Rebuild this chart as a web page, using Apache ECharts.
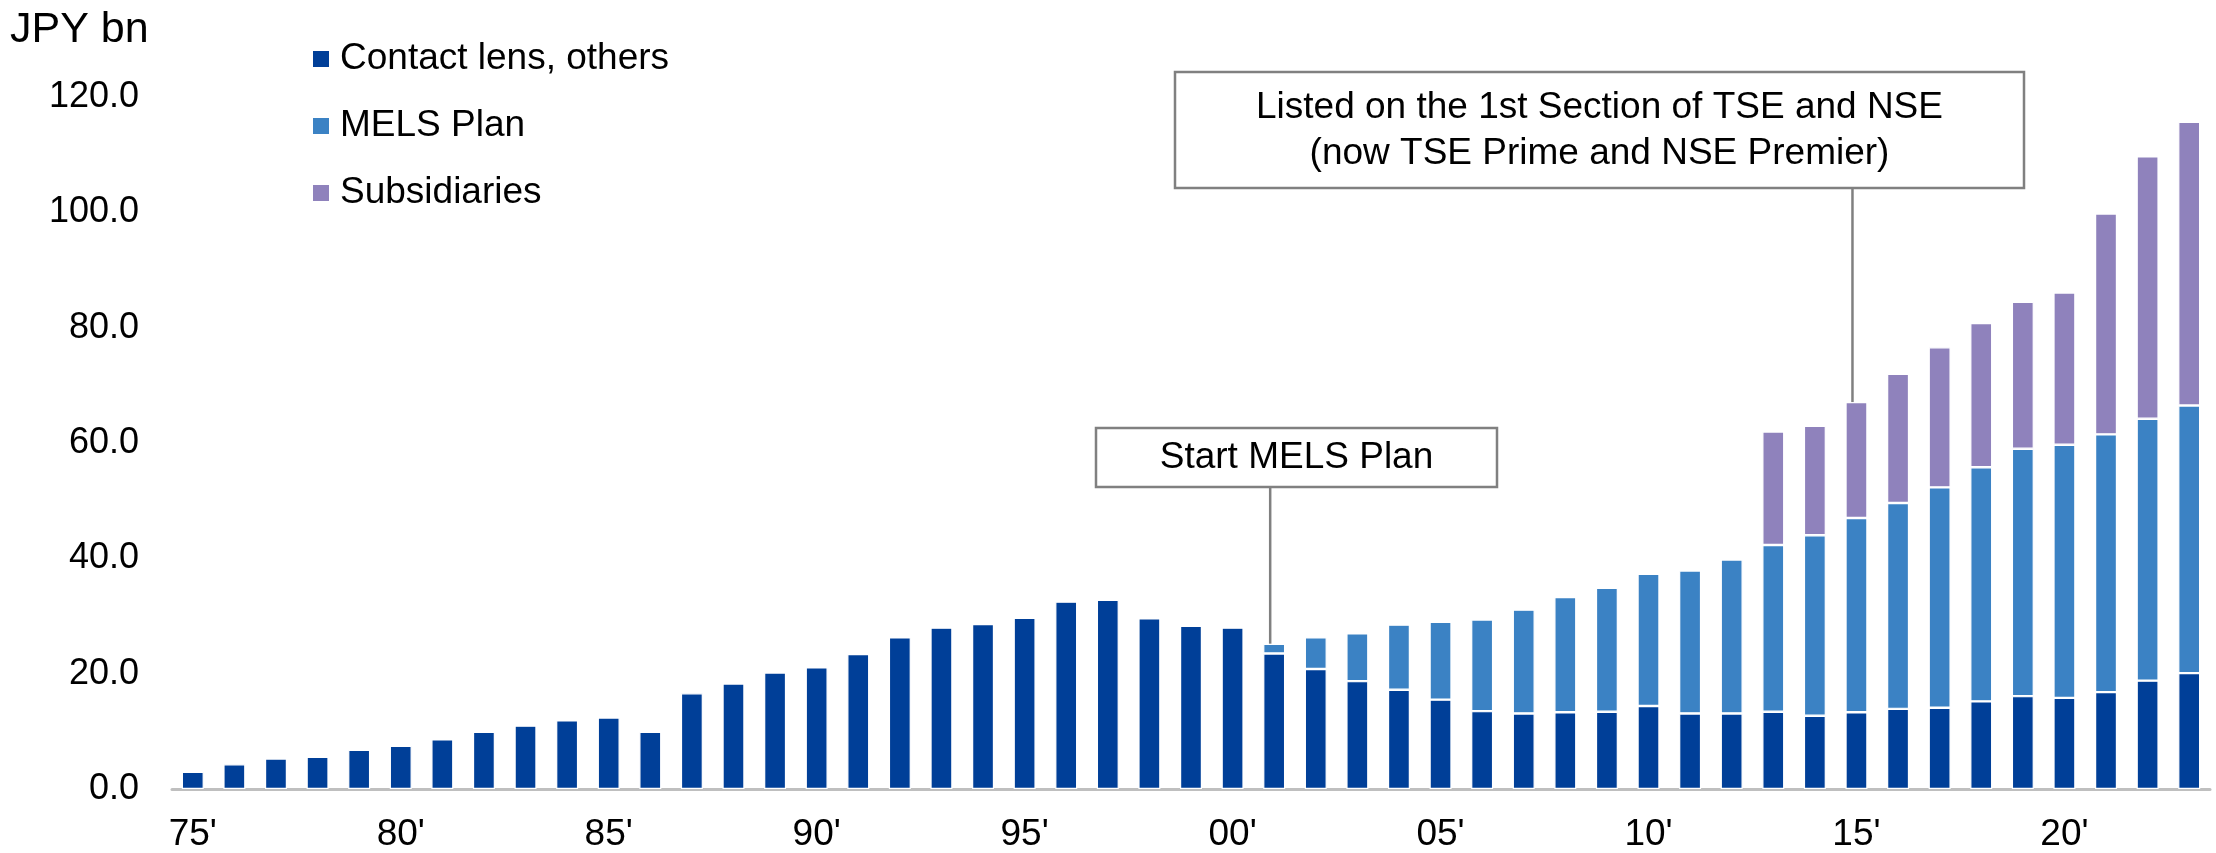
<!DOCTYPE html>
<html>
<head>
<meta charset="utf-8">
<script src="https://cdn.jsdelivr.net/npm/echarts/dist/echarts.min.js"></script>
<style>
html,body{margin:0;padding:0;background:#ffffff;}
#chart{width:2216px;height:853px;}
</style>
</head>
<body>
<div id="chart"></div>
<script>
// ---- data (JPY bn) ----
const years = ["75'","76'","77'","78'","79'","80'","81'","82'","83'","84'",
  "85'","86'","87'","88'","89'","90'","91'","92'","93'","94'",
  "95'","96'","97'","98'","99'","00'","01'","02'","03'","04'",
  "05'","06'","07'","08'","09'","10'","11'","12'","13'","14'",
  "15'","16'","17'","18'","19'","20'","21'","22'","23'"];

const contactLens = [3.0,4.3,5.3,5.6,6.8,7.5,8.6,9.9,11.0,11.9,
  12.4,9.9,16.6,18.3,20.2,21.1,23.4,26.3,28.0,28.6,
  29.7,32.5,32.8,29.6,28.3,28.0,23.5,20.8,18.7,17.2,
  15.5,13.5,13.1,13.3,13.4,14.4,13.1,13.1,13.4,12.7,
  13.3,13.9,14.1,15.2,16.1,15.8,16.8,18.8,20.1];

const melsPlan = [null,null,null,null,null,null,null,null,null,null,
  null,null,null,null,null,null,null,null,null,null,
  null,null,null,null,null,null,1.7,5.5,8.3,11.3,
  13.5,15.9,18.0,20.0,21.5,22.9,24.8,26.7,28.9,31.3,
  33.7,35.7,38.2,40.6,42.9,43.9,44.7,45.4,46.4];

const subsidiaries = [null,null,null,null,null,null,null,null,null,null,
  null,null,null,null,null,null,null,null,null,null,
  null,null,null,null,null,null,null,null,null,null,
  null,null,null,null,null,null,null,null,19.7,19.0,
  20.1,22.4,24.3,25.0,25.5,26.4,38.3,45.5,49.2];

const seriesNames = ["Contact lens, others","MELS Plan","Subsidiaries"];
const yAxisMin = 0, yAxisMax = 120, yAxisStep = 20;
const unitLabel = "JPY bn";
const note1 = {year:"01'", text:"Start MELS Plan"};
const note2 = {year:"15'", text:"Listed on the 1st Section of TSE and NSE\n(now TSE Prime and NSE Premier)"};

// ---- chart ----
const FONT = "'Liberation Sans', Arial, Helvetica, sans-serif";
const colors = ["#003f98","#3b82c4","#8f82bc"];
const chart = echarts.init(document.getElementById('chart'), null, {renderer:'canvas'});

function barSeries(name, data, color){
  return {
    name: name, type:'bar', stack:'total', data:data, barWidth:22,
    itemStyle:{color:color, borderColor:'#ffffff', borderWidth:1.2},
    emphasis:{disabled:true}, animation:false
  };
}

const option = {
  animation:false,
  backgroundColor:'#ffffff',
  color: colors,
  textStyle:{fontFamily:FONT},
  title:{text:unitLabel, left:5, top:4,
    textStyle:{fontFamily:FONT, fontSize:43, fontWeight:'normal', color:'#000'}},
  legend:{
    orient:'vertical', left:308, top:34, icon:'rect',
    itemWidth:16, itemHeight:16, itemGap:27,
    itemStyle:{borderWidth:0},
    textStyle:{fontFamily:FONT, fontSize:37, color:'#000', lineHeight:40, padding:[0,0,0,6]},
    data: seriesNames, selectedMode:false
  },
  grid:{left:172, right:6, top:97, bottom:63, containLabel:false},
  xAxis:{
    type:'category', data:years,
    axisLine:{show:true, lineStyle:{color:'#bfbfbf', width:3}},
    axisTick:{show:false},
    axisLabel:{interval:4, fontFamily:FONT, fontSize:37, color:'#000', margin:27}
  },
  yAxis:{
    type:'value', min:yAxisMin, max:yAxisMax, interval:yAxisStep,
    axisLine:{show:false}, axisTick:{show:false}, splitLine:{show:false},
    axisLabel:{fontFamily:FONT, fontSize:36, color:'#000', margin:33,
      formatter:function(v){return v.toFixed(1);}}
  },
  series:[
    barSeries(seriesNames[0], contactLens, colors[0]),
    barSeries(seriesNames[1], melsPlan, colors[1]),
    barSeries(seriesNames[2], subsidiaries, colors[2])
  ]
};
chart.setOption(option);

function totalAt(i){
  return (contactLens[i]||0) + (melsPlan[i]||0) + (subsidiaries[i]||0);
}
function topOf(year){
  const i = years.indexOf(year);
  return chart.convertToPixel({gridIndex:0}, [i, totalAt(i)]);
}

const p1 = topOf(note1.year);
const p2 = topOf(note2.year);
const box1 = {x:1096, y:428, w:401, h:59};
const box2 = {x:1175, y:72, w:849, h:116};

chart.setOption({
  graphic:[
    {type:'line', shape:{x1:p1[0]-4, y1:box1.y+box1.h, x2:p1[0]-4, y2:p1[1]},
      style:{stroke:'#808080', lineWidth:2.5}, z:10},
    {type:'rect', shape:{x:box1.x, y:box1.y, width:box1.w, height:box1.h},
      style:{fill:'#ffffff', stroke:'#808080', lineWidth:2.5}, z:10},
    {type:'text', x:box1.x+box1.w/2, y:box1.y+box1.h/2,
      style:{text:note1.text, font:"37px "+FONT, fill:'#000', align:'center', verticalAlign:'middle'}, z:11},
    {type:'line', shape:{x1:p2[0]-4, y1:box2.y+box2.h, x2:p2[0]-4, y2:p2[1]},
      style:{stroke:'#808080', lineWidth:2.5}, z:10},
    {type:'rect', shape:{x:box2.x, y:box2.y, width:box2.w, height:box2.h},
      style:{fill:'#ffffff', stroke:'#808080', lineWidth:2.5}, z:10},
    {type:'text', x:box2.x+box2.w/2, y:box2.y+box2.h/2+1,
      style:{text:note2.text, font:"37px "+FONT, fill:'#000', align:'center', verticalAlign:'middle', lineHeight:46}, z:11}
  ]
});
</script>
</body>
</html>
